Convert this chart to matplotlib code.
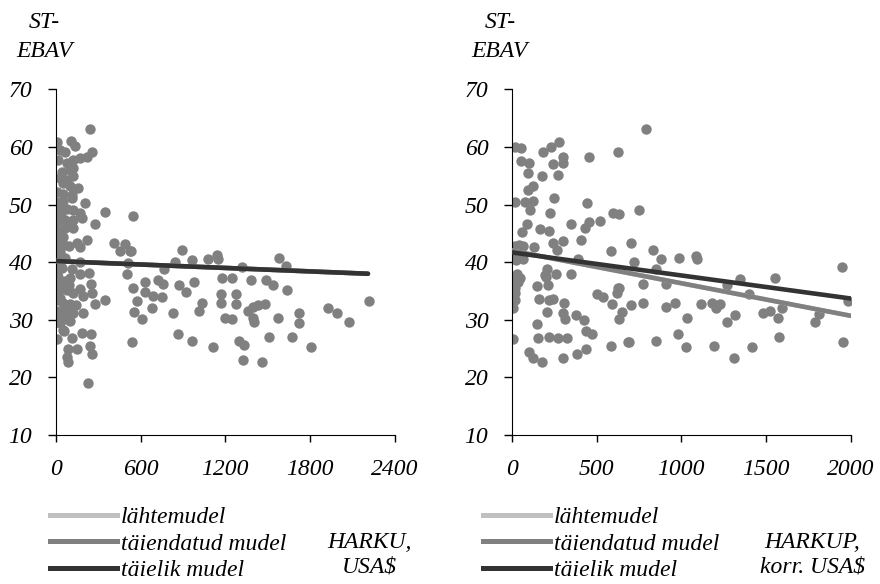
import matplotlib.pyplot as plt
from matplotlib import font_manager
from matplotlib.font_manager import FontProperties
from matplotlib.lines import Line2D

# italic Times-like font, taken by file so the italic face is used for sure
serif_it = [f.fname for f in font_manager.fontManager.ttflist
            if f.name == 'Liberation Serif' and f.style == 'italic' and f.weight == 400]
if serif_it:
    fp = FontProperties(fname=serif_it[0], size=17)
else:
    fp = FontProperties(family='DejaVu Serif', style='italic', size=17)

# HARKU, USA$ vs ST-EBAV
harku_x = [347, 545, 276, 410, 488, 455, 530, 523, 891, 842, 962, 1075, 1140, 1146, 1578, 1627, 1315, 764,
           512, 502, 2215, 1175, 1245, 1380, 1490, 1540, 1640, 545, 630, 720, 757, 870, 976, 630, 686, 750,
           920, 1167, 1273, 573, 679, 552, 608, 1033, 1012, 1167, 1273, 1358, 1394, 1430, 1479, 1394, 1400,
           1570, 1720, 1720, 1925, 1988, 2073, 828, 1196, 1245, 537, 863, 962, 1111, 1295, 1330, 1507, 1670,
           1804, 1323, 1457, 347,
           240, 7, 106, 134, 28, 64, 255, 14, 78, 120, 170, 219, 42, 99, 120, 28, 78, 120, 50, 99, 156, 7, 50,
           113, 0, 50, 113, 205, 28, 78, 120, 170, 7, 64, 120, 184, 14, 64, 120, 7, 50, 148, 170, 219, 14, 28,
           14, 64, 170, 7, 113, 170, 233, 7, 64, 99, 247, 170, 14, 78, 120, 191, 255, 276, 7, 50, 99, 141, 7,
           64, 120, 191, 28, 50, 7, 113, 184, 247, 148, 85, 78, 85, 240, 255, 226,
           35, 90, 20, 40, 90, 35, 100, 60, 22, 93, 10, 45, 30, 75, 15, 55]
harku_y = [48.8, 48.1, 46.7, 43.4, 43.2, 42.0, 42.0, 41.9, 42.2, 40.1, 40.3, 40.6, 41.2, 40.6, 40.8, 39.3, 39.2, 38.9,
           39.8, 37.9, 33.2, 37.2, 37.2, 37.0, 37.0, 36.0, 35.1, 35.6, 36.5, 37.0, 36.3, 36.1, 36.5, 34.8, 34.2, 34.0,
           34.9, 34.5, 34.4, 33.2, 32.0, 31.3, 30.1, 33.0, 31.6, 33.0, 32.8, 31.6, 32.3, 32.5, 32.8, 30.4, 29.7,
           30.4, 31.1, 29.4, 32.0, 31.1, 29.6, 31.1, 30.4, 30.1, 26.1, 27.5, 26.4, 25.2, 26.3, 25.6, 27.0, 27.0,
           25.2, 23.1, 22.6, 33.4,
           63.2, 60.8, 61.0, 60.1, 59.4, 59.1, 59.1, 57.7, 57.3, 57.7, 58.0, 58.2, 55.6, 56.0, 56.3, 54.7, 54.2, 55.0,
           53.7, 53.3, 52.8, 52.1, 51.9, 51.6, 50.4, 50.7, 51.1, 50.2, 49.0, 49.3, 49.0, 48.5, 46.9, 47.3, 47.3, 47.6,
           45.5, 45.9, 45.9, 44.1, 44.3, 43.3, 42.6, 43.8, 42.9, 41.7, 40.8, 40.8, 40.0, 38.0, 38.9, 38.0, 38.2,
           36.5, 36.8, 37.2, 36.3, 35.4, 34.8, 35.1, 34.6, 34.2, 34.6, 32.8, 33.4, 33.0, 32.8, 32.5, 31.6, 31.6,
           31.1, 31.1, 29.4, 28.2, 26.6, 26.9, 27.8, 27.5, 24.9, 25.0, 23.5, 22.6, 25.4, 24.0, 19.0,
           48.0, 47.0, 39.0, 35.5, 36.0, 30.5, 29.8, 28.0, 43.5, 42.8, 40.2, 39.0, 33.8, 30.2, 37.5, 43.0]

# HARKUP, korr. USA$ vs ST-EBAV
harkup_x = [794, 18, 53, 182, 229, 276, 453, 624, 53, 100, 241, 300, 300, 270, 94, 176, 94, 124, 247, 18, 76, 124,
            106, 224, 441, 594, 629, 747, 88, 165, 218, 59, 347, 429, 453, 518, 406, 300, 241, 129, 582, 700, 835,
            18, 65, 29, 65, 265, 388, 718, 882, 988, 1088, 1094, 853, 912, 771, 629, 1270, 1347, 1553, 1947,
            29, 47, 206, 200, 259, 347, 147, 212, 35, 18, 18, 18, 6, 194, 159, 218, 241, 206, 306, 300, 312, 376,
            424, 147, 435, 470, 6, 153, 218, 270, 324, 100, 124, 176, 300, 382, 435, 500, 535, 588, 624, 618, 647,
            629, 582, 682, 700, 771, 912, 965, 1118, 1182, 1206, 1229, 1035, 1318, 1270, 1482, 1523, 1594, 1570,
            1812, 1788, 1982, 688, 853, 982, 1029, 1194, 1312, 1418, 1576, 1953, 1400,
            10, 40, 50, 25, 12, 30]
harkup_y = [63.1, 60.0, 59.8, 59.1, 60.0, 60.8, 58.3, 59.1, 57.6, 57.2, 57.1, 58.2, 57.3, 55.1, 55.4, 54.9, 52.5,
            53.3, 51.2, 50.4, 50.4, 50.7, 49.0, 48.6, 50.2, 48.6, 48.3, 49.0, 46.7, 45.8, 45.4, 45.2, 46.7, 46.0,
            46.9, 47.1, 43.8, 43.6, 43.3, 42.6, 42.0, 43.3, 42.2, 42.9, 42.9, 41.5, 40.5, 42.2, 40.5, 40.1, 40.5,
            40.7, 41.0, 40.5, 38.9, 36.3, 36.3, 35.6, 36.0, 37.1, 37.2, 39.1,
            38.0, 37.2, 38.9, 37.4, 38.0, 38.0, 35.8, 36.0, 36.5, 35.5, 34.6, 33.4, 32.0, 37.7, 33.7, 33.4, 33.7,
            31.3, 33.0, 31.1, 30.2, 30.9, 29.9, 29.2, 28.0, 27.5, 26.6, 26.9, 27.1, 26.9, 26.9, 24.5, 23.3, 22.6,
            23.3, 24.0, 25.0, 34.4, 33.9, 32.8, 35.6, 34.6, 31.3, 30.1, 25.4, 26.1, 32.5, 33.0, 32.2, 33.0, 32.8,
            33.0, 32.0, 32.8, 30.4, 30.8, 29.6, 31.1, 31.6, 32.0, 30.4, 31.0, 29.7, 33.2, 26.1, 26.4, 27.5, 25.2,
            25.5, 23.3, 25.2, 27.0, 26.2, 34.4,
            41.0, 43.0, 41.8, 40.3, 37.0, 42.0]

# model lines (start and end values)
harku_fit_x = [0, 2210]
harku_lahte = [40.2, 38.0]
harku_taiend = [40.2, 38.0]
harku_taielik = [40.2, 38.0]

harkup_fit_x = [0, 2000]
harkup_lahte = [42.0, 30.7]
harkup_taiend = [42.0, 30.7]
harkup_taielik = [41.7, 33.7]

y_ticks = [10, 20, 30, 40, 50, 60, 70]
model_names = ['lähtemudel', 'täiendatud mudel', 'täielik mudel']
model_colors = ['#c0c0c0', '#808080', '#333333']

fig = plt.figure(figsize=(8.8, 5.84), dpi=100)

panels = [
    (0.0636, harku_x, harku_y, harku_fit_x, [harku_lahte, harku_taiend, harku_taielik],
     [0, 600, 1200, 1800, 2400], 'HARKU,\nUSA\\$', 0.42, 0.057, 0.05),
    (0.5818, harkup_x, harkup_y, harkup_fit_x, [harkup_lahte, harkup_taiend, harkup_taielik],
     [0, 500, 1000, 1500, 2000], 'HARKUP,\nkorr. USA\\$', 0.923, 0.549, 0.568),
]

for left, xs, ys, fx, fits, xt, name, name_x, leg_x, lab_x in panels:
    ax = fig.add_axes([left, 0.255, 0.385, 0.592])
    ax.scatter(xs, ys, s=56, color='#808080', linewidths=0, zorder=2)
    for fy, lab, col in zip(fits, model_names, model_colors):
        ax.plot(fx, fy, color=col, lw=3.3, solid_capstyle='round', zorder=3, label=lab)
    ax.set_xlim(xt[0], xt[-1])
    ax.set_ylim(10, 70)
    ax.set_xticks(xt, labels=[str(v) for v in xt], fontproperties=fp)
    ax.set_yticks(y_ticks, labels=[str(v) for v in y_ticks], fontproperties=fp)
    ax.spines['top'].set_visible(False)
    ax.spines['right'].set_visible(False)
    ax.tick_params(axis='y', direction='out', length=6, width=1, pad=11)
    ax.tick_params(axis='x', direction='out', length=5, width=1, pad=12)
    fig.text(lab_x, 0.962, 'ST-', ha='center', va='center', fontproperties=fp)
    fig.text(lab_x, 0.911, 'EBAV', ha='center', va='center', fontproperties=fp)
    leg_handles = [Line2D([0], [0], color=c, lw=3.6) for c in model_colors]
    fig.legend(leg_handles, model_names, loc='upper left', bbox_to_anchor=(leg_x, 0.132),
               frameon=False, prop=fp, handlelength=2.85, handletextpad=0.15,
               labelspacing=0.2, borderpad=0, borderaxespad=0)
    fig.text(name_x, 0.05, name, ha='center', va='center', fontproperties=fp, linespacing=1.25)

fig.savefig('out.png', dpi=100)
